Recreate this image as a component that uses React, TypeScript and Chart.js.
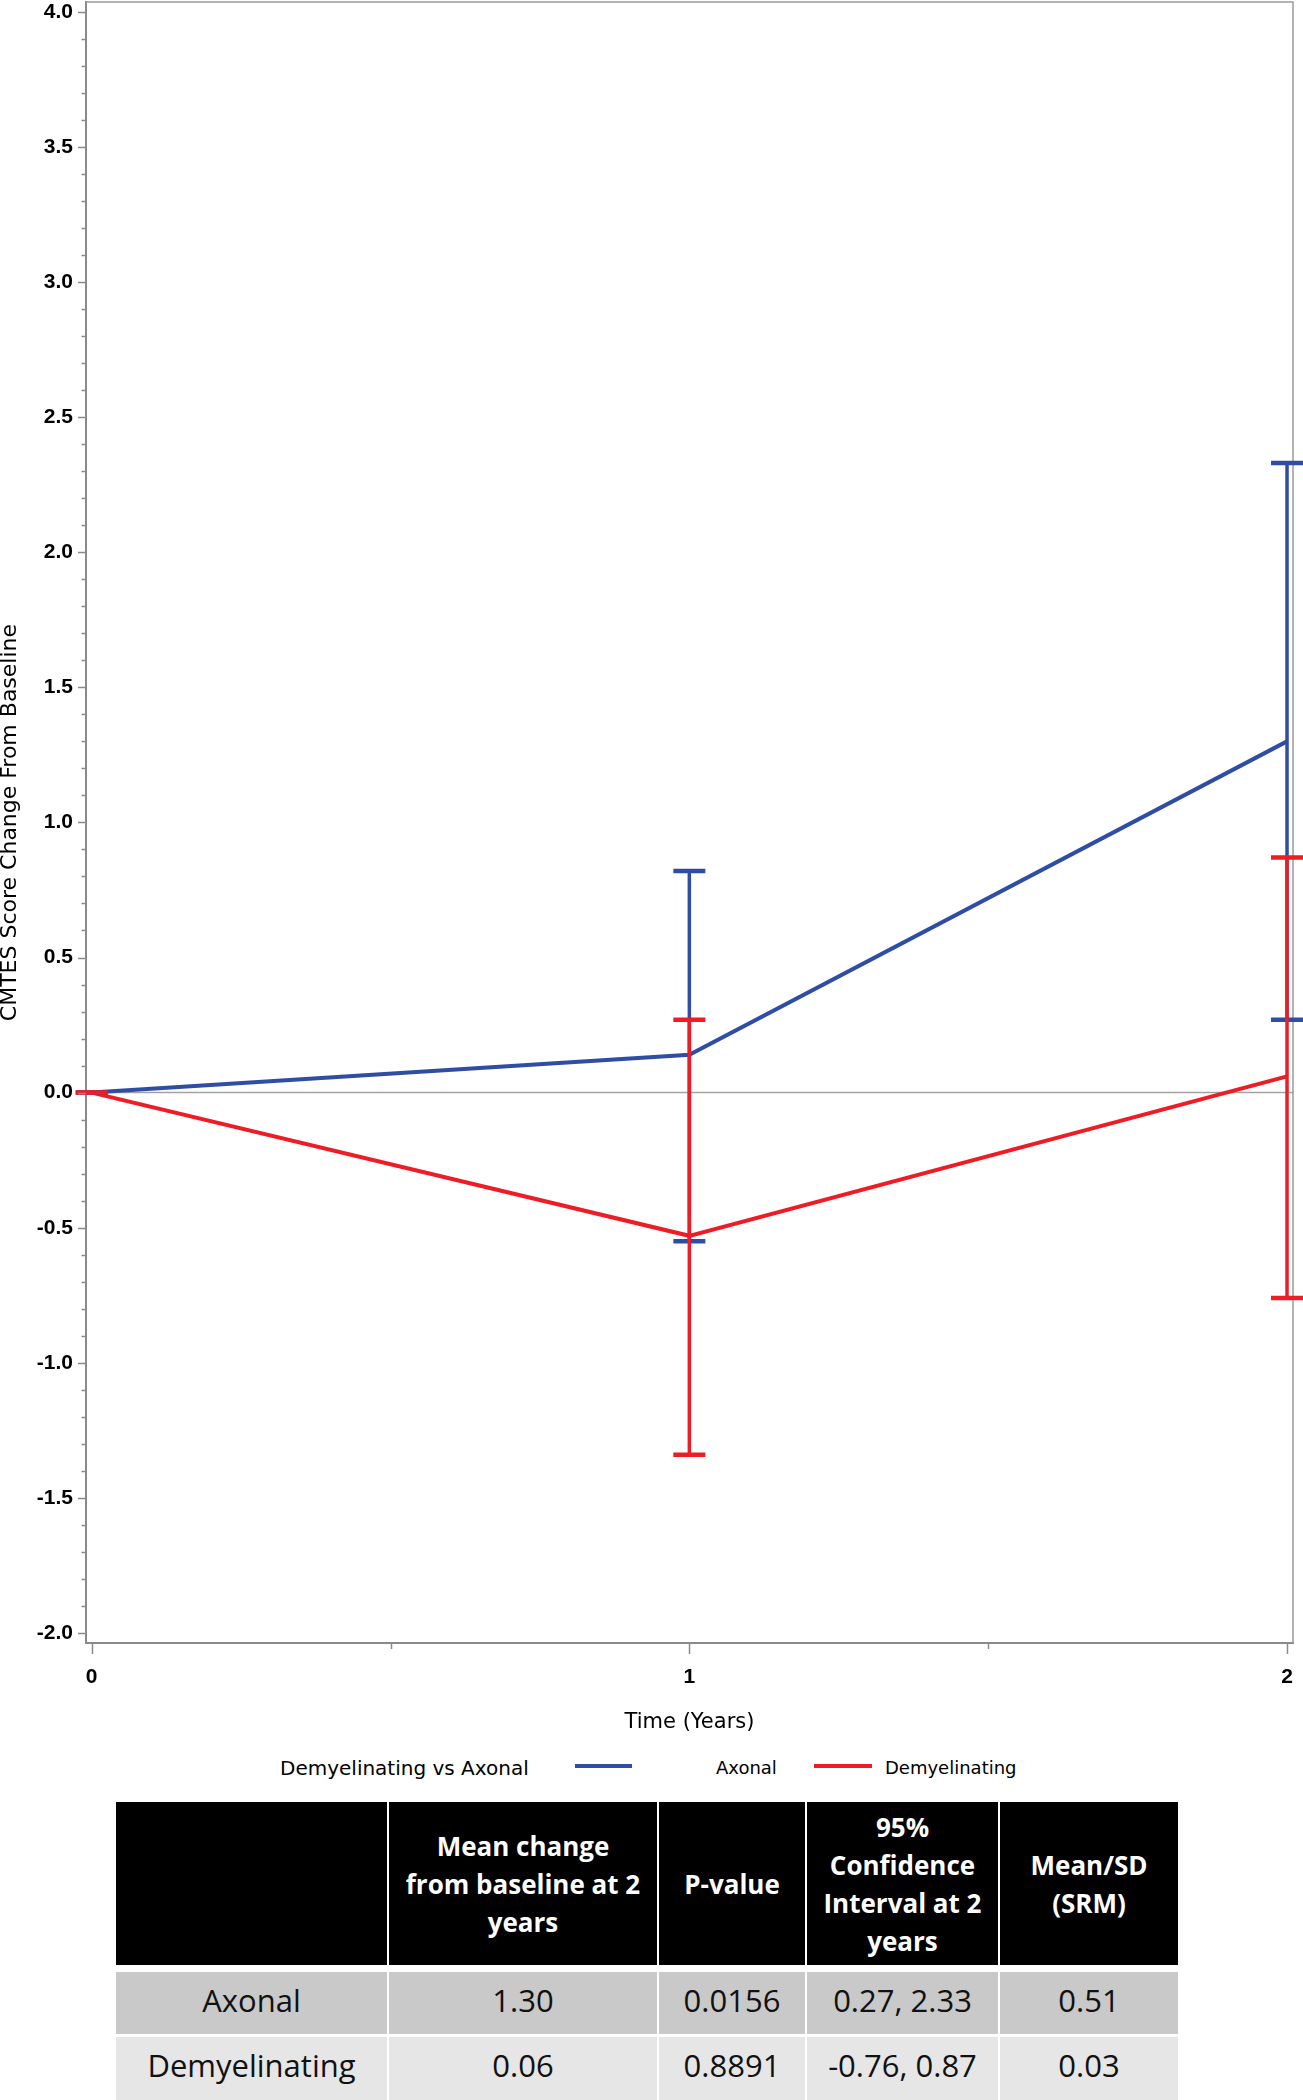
import React, { useEffect, useRef } from "react";
import { Chart, registerables } from "chart.js";

Chart.register(...registerables);

// ---------- data ----------
const TIME_YEARS = [0, 1, 2];
const AXONAL_MEAN = [0, 0.14, 1.3];
const AXONAL_LOWER = [0, -0.55, 0.27];
const AXONAL_UPPER = [0, 0.82, 2.33];
const DEMYEL_MEAN = [0, -0.53, 0.06];
const DEMYEL_LOWER = [0, -1.34, -0.76];
const DEMYEL_UPPER = [0, 0.27, 0.87];

const X_TICKS = [0, 1, 2];
const X_MINOR_TICKS = [0.5, 1.5];
const Y_TICKS = [-2.0, -1.5, -1.0, -0.5, 0.0, 0.5, 1.0, 1.5, 2.0, 2.5, 3.0, 3.5, 4.0];
const Y_MINOR_STEP = 0.1;

const SERIES_NAMES = ["Axonal", "Demyelinating"];
const LEGEND_TITLE = "Demyelinating vs Axonal";
const X_TITLE = "Time (Years)";
const Y_TITLE = "CMTES Score Change From Baseline";

const TABLE_HEADERS = [
  [""],
  ["Mean change", "from baseline at 2", "years"],
  ["P-value"],
  ["95%", "Confidence", "Interval at 2", "years"],
  ["Mean/SD", "(SRM)"],
];
const TABLE_GROUPS = ["Axonal", "Demyelinating"];
const TABLE_MEAN_CHANGE = ["1.30", "0.06"];
const TABLE_P_VALUE = ["0.0156", "0.8891"];
const TABLE_CI = ["0.27, 2.33", "-0.76, 0.87"];
const TABLE_SRM = ["0.51", "0.03"];

// ---------- styles ----------
const BLUE = "#2f4ea3";
const RED = "#ee1c25";
const AXIS_GRAY = "#8a8a8a";
const CANVAS_W = 1303;
const CANVAS_H = 1745;

const COL_W = [271, 268, 146, 191, 178];
const COL_GAP = 2;
const TABLE_LEFT = 116;
const HEADER_TOP = 1802;
const HEADER_H = 163;
const ROW_TOPS = [1972, 2037];
const ROW_HS = [62, 63];
const ROW_BG = ["#c9c9c9", "#e6e6e6"];

const overlayPlugin = {
  id: "overlayPlugin",
  beforeDatasetsDraw(chart: any) {
    const { ctx, chartArea: a, scales } = chart;
    const y = scales.y;
    ctx.save();
    const y0 = y.getPixelForValue(0);
    ctx.strokeStyle = "#a3a3a3";
    ctx.lineWidth = 1.5;
    ctx.beginPath();
    ctx.moveTo(a.left, y0);
    ctx.lineTo(a.right, y0);
    ctx.stroke();
    ctx.strokeStyle = "#9a9a9a";
    ctx.lineWidth = 1.5;
    ctx.beginPath();
    ctx.moveTo(a.left, a.top);
    ctx.lineTo(a.right, a.top);
    ctx.lineTo(a.right, a.bottom);
    ctx.stroke();
    ctx.restore();
  },
  afterDatasetsDraw(chart: any) {
    const { ctx, scales } = chart;
    const x = scales.x;
    const y = scales.y;
    const series = [
      { lo: AXONAL_LOWER, hi: AXONAL_UPPER, color: BLUE },
      { lo: DEMYEL_LOWER, hi: DEMYEL_UPPER, color: RED },
    ];
    ctx.save();
    series.forEach((s) => {
      TIME_YEARS.forEach((t, i) => {
        const px = x.getPixelForValue(t);
        const pl = y.getPixelForValue(s.lo[i]);
        const ph = y.getPixelForValue(s.hi[i]);
        ctx.strokeStyle = s.color;
        ctx.lineWidth = 3.5;
        ctx.beginPath();
        ctx.moveTo(px, pl);
        ctx.lineTo(px, ph);
        ctx.stroke();
        ctx.lineWidth = 4.5;
        ctx.beginPath();
        ctx.moveTo(px - 16, pl);
        ctx.lineTo(px + 16, pl);
        ctx.moveTo(px - 16, ph);
        ctx.lineTo(px + 16, ph);
        ctx.stroke();
      });
    });
    ctx.restore();
  },
  afterDraw(chart: any) {
    const { ctx, chartArea: a, scales } = chart;
    const x = scales.x;
    const y = scales.y;
    ctx.save();
    ctx.strokeStyle = AXIS_GRAY;
    ctx.lineWidth = 1.5;
    ctx.beginPath();
    const yMin = Y_TICKS[0];
    const yMax = Y_TICKS[Y_TICKS.length - 1];
    const n = Math.round((yMax - yMin) / Y_MINOR_STEP);
    for (let k = 0; k <= n; k++) {
      const v = yMin + k * Y_MINOR_STEP;
      const isMajor = Y_TICKS.some((t) => Math.abs(t - v) < 1e-6);
      const py = Math.round(y.getPixelForValue(v)) + 0.5;
      ctx.moveTo(a.left - (isMajor ? 8 : 4.5), py);
      ctx.lineTo(a.left, py);
    }
    X_TICKS.forEach((v) => {
      const px = Math.round(x.getPixelForValue(v)) + 0.5;
      ctx.moveTo(px, a.bottom);
      ctx.lineTo(px, a.bottom + 11);
    });
    X_MINOR_TICKS.forEach((v) => {
      const px = Math.round(x.getPixelForValue(v)) + 0.5;
      ctx.moveTo(px, a.bottom);
      ctx.lineTo(px, a.bottom + 6);
    });
    ctx.stroke();
    ctx.restore();
  },
};

function ChartCanvas() {
  const ref = useRef<HTMLCanvasElement | null>(null);
  useEffect(() => {
    if (!ref.current) return;
    const chart = new Chart(ref.current, {
      type: "line",
      data: {
        datasets: [
          {
            label: SERIES_NAMES[0],
            data: TIME_YEARS.map((t, i) => ({ x: t, y: AXONAL_MEAN[i] })),
            borderColor: BLUE,
            backgroundColor: BLUE,
            borderWidth: 4,
            pointRadius: 0,
            tension: 0,
            fill: false,
          },
          {
            label: SERIES_NAMES[1],
            data: TIME_YEARS.map((t, i) => ({ x: t, y: DEMYEL_MEAN[i] })),
            borderColor: RED,
            backgroundColor: RED,
            borderWidth: 4,
            pointRadius: 0,
            tension: 0,
            fill: false,
          },
        ],
      },
      options: {
        animation: false,
        responsive: false,
        maintainAspectRatio: false,
        devicePixelRatio: 1,
        layout: { padding: { top: 2, right: 10, left: 0, bottom: 0 } },
        plugins: { legend: { display: false }, tooltip: { enabled: false } },
        scales: {
          x: {
            type: "linear",
            min: -0.0095,
            max: 2.01,
            afterBuildTicks: (s: any) => {
              s.ticks = X_TICKS.map((v) => ({ value: v }));
            },
            afterFit: (s: any) => {
              s.height = CANVAS_H - 1643;
            },
            grid: { display: true, drawOnChartArea: false, drawTicks: true, tickLength: 22, color: "rgba(0,0,0,0)" },
            border: { display: true, color: AXIS_GRAY, width: 2 },
            ticks: {
              padding: 0,
              autoSkip: false,
              maxRotation: 0,
              color: "#000",
              font: { family: "Liberation Sans", size: 21, weight: "bold", lineHeight: 1.2 },
              callback: (v: any) => String(v),
            },
            title: {
              display: true,
              text: X_TITLE,
              color: "#000",
              font: { family: "DejaVu Sans", size: 21, lineHeight: 1.2 },
              padding: { top: 0, bottom: 10 },
            },
          },
          y: {
            type: "linear",
            min: -2.037,
            max: 4.036,
            afterBuildTicks: (s: any) => {
              s.ticks = Y_TICKS.map((v) => ({ value: v }));
            },
            afterFit: (s: any) => {
              s.width = 86;
            },
            grid: { display: true, drawOnChartArea: false, drawTicks: true, tickLength: 13, color: "rgba(0,0,0,0)" },
            border: { display: true, color: AXIS_GRAY, width: 2 },
            ticks: {
              padding: 0,
              autoSkip: false,
              color: "#000",
              font: { family: "Liberation Sans", size: 21, weight: "bold", lineHeight: 0.2 },
              callback: (v: any) => Number(v).toFixed(1),
            },
            title: {
              display: true,
              text: Y_TITLE,
              color: "#000",
              font: { family: "DejaVu Sans", size: 22, lineHeight: 0.9 },
              padding: 0,
            },
          },
        },
      } as any,
      plugins: [overlayPlugin],
    });
    return () => chart.destroy();
  }, []);
  return (
    <canvas
      ref={ref}
      width={CANVAS_W}
      height={CANVAS_H}
      style={{ position: "absolute", left: 0, top: 0, width: CANVAS_W, height: CANVAS_H, display: "block" }}
    />
  );
}

function Legend() {
  const common: React.CSSProperties = {
    position: "absolute",
    fontFamily: "'DejaVu Sans', sans-serif",
    color: "#000",
    whiteSpace: "nowrap",
  };
  return (
    <>
      <div style={{ ...common, left: 280, top: 1756, fontSize: 20, lineHeight: "24px" }}>{LEGEND_TITLE}</div>
      <div style={{ position: "absolute", left: 575, top: 1764, width: 57, height: 4, background: BLUE }} />
      <div style={{ ...common, left: 716, top: 1757, fontSize: 18, lineHeight: "22px" }}>{SERIES_NAMES[0]}</div>
      <div style={{ position: "absolute", left: 814, top: 1764, width: 58, height: 4, background: RED }} />
      <div style={{ ...common, left: 885, top: 1757, fontSize: 18, lineHeight: "22px" }}>{SERIES_NAMES[1]}</div>
    </>
  );
}

function Table() {
  const lefts: number[] = [];
  let acc = TABLE_LEFT;
  COL_W.forEach((w) => {
    lefts.push(acc);
    acc += w + COL_GAP;
  });
  const rows = TABLE_GROUPS.map((g, i) => [g, TABLE_MEAN_CHANGE[i], TABLE_P_VALUE[i], TABLE_CI[i], TABLE_SRM[i]]);
  const cellBase: React.CSSProperties = {
    position: "absolute",
    display: "flex",
    flexDirection: "column",
    alignItems: "center",
    justifyContent: "center",
    textAlign: "center",
    whiteSpace: "nowrap",
    fontFamily: "'Open Sans', sans-serif",
    boxSizing: "border-box",
  };
  return (
    <>
      {TABLE_HEADERS.map((lines, c) => (
        <div
          key={"h" + c}
          style={{
            ...cellBase,
            left: lefts[c],
            top: HEADER_TOP,
            width: COL_W[c],
            height: HEADER_H,
            background: "#000",
            color: "#fff",
            fontWeight: 700,
            fontSize: 26,
            lineHeight: "38px",
          }}
        >
          {lines.map((l, k) => (
            <div key={k}>{l}</div>
          ))}
        </div>
      ))}
      {rows.map((r, ri) =>
        r.map((txt, c) => (
          <div
            key={"r" + ri + "c" + c}
            style={{
              ...cellBase,
              left: lefts[c],
              top: ROW_TOPS[ri],
              width: COL_W[c],
              height: ROW_HS[ri],
              background: ROW_BG[ri],
              color: "#111",
              fontSize: 31,
              lineHeight: "40px",
              paddingBottom: 7,
            }}
          >
            {txt}
          </div>
        ))
      )}
    </>
  );
}

export default function App() {
  return (
    <div style={{ position: "absolute", left: 0, top: 0, width: 1303, height: 2100, background: "#fff", overflow: "hidden" }}>
      <ChartCanvas />
      <Legend />
      <Table />
    </div>
  );
}
